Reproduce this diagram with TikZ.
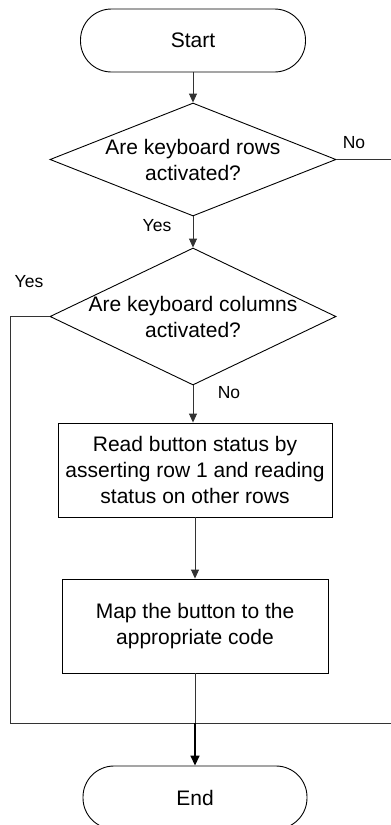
\documentclass[tikz,border=0pt]{standalone}
\usepackage{fontspec}
\setmainfont{Liberation Sans}
\usetikzlibrary{shapes.geometric,arrows.meta}
\begin{document}
\begin{tikzpicture}[x=1pt,y=-1pt,
  every node/.style={font=\fontsize{21}{26}\selectfont},
  term/.style={draw=black,line width=0.9pt,rectangle,rounded corners=31pt,minimum width=225pt,minimum height=63pt,inner sep=0pt},
  dia/.style={draw=black,line width=0.9pt,diamond,minimum width=286pt,inner sep=0pt},
  procbox/.style={draw=black,line width=0.9pt,rectangle,inner sep=0pt},
  txt/.style={align=center,inner sep=0pt},
  lbl/.style={font=\fontsize{17.5}{20}\selectfont,inner sep=0pt},
  conn/.style={draw=black!80,line width=0.9pt},
  arr/.style={conn,-{Triangle[width=8pt,length=9pt]}},
  arrb/.style={draw=black,line width=1.6pt,-{Triangle[width=9pt,length=10pt]}}]
\useasboundingbox (0,0) rectangle (391,825);
\node[term] (start) at (193,40.5) {Start};
\node[dia,minimum height=113pt] (d1) at (193,159.5) {};
\node[txt] (d1t) at (193,160) {Are keyboard rows\\activated?};
\node[dia,minimum height=137pt] (d2) at (193,316.5) {};
\node[txt] (d2t) at (193,317) {Are keyboard columns\\activated?};
\node[procbox,minimum width=274pt,minimum height=94pt] (b1) at (195,470) {};
\node[txt] (b1t) at (195,470) {Read button status by\\asserting row 1 and reading\\status on other rows};
\node[procbox,minimum width=266pt,minimum height=94pt] (b2) at (195,626) {};
\node[txt] (b2t) at (195,626) {Map the button to the\\appropriate code};
\node[term,minimum width=224pt] (endn) at (195,797.5) {End};
\coordinate (R1) at (392,159.5);
\coordinate (L) at (10,723);
\coordinate (R2) at (392,723);
\coordinate (m) at (195,723);
\node[lbl] (no1) at (354,143) {No};
\node[lbl] (yes1) at (157,226) {Yes};
\node[lbl] (yes2) at (29,282) {Yes};
\node[lbl] (no2) at (229,393) {No};
\draw[arr] (start.south) -- (d1.north);
\draw[arr] (d1.south) -- (d2.north);
\draw[arr] (d2.south) -- (d2.south |- b1.north);
\draw[arr] (b1.south) -- (b2.north);
\draw[conn] (d1.east) -- (R1);
\draw[conn] (d2.west) -| (L) -- (R2);
\draw[conn] (b2.south) -- (m);
\draw[arrb] (m) -- (endn.north);
\end{tikzpicture}
\end{document}
